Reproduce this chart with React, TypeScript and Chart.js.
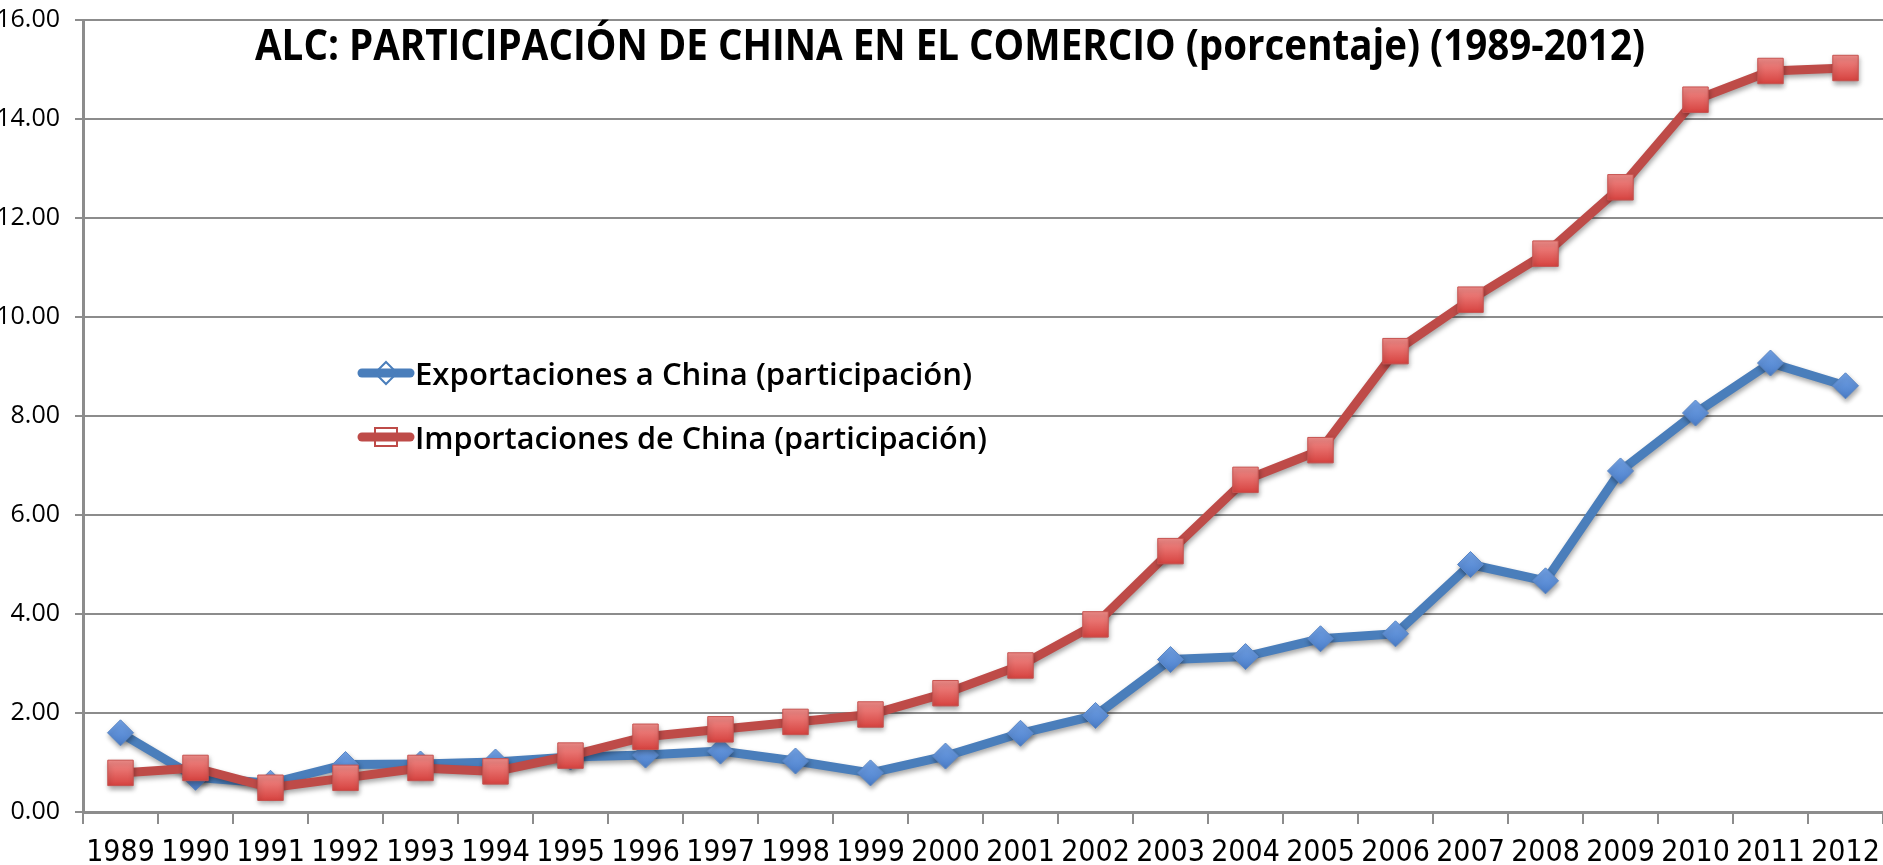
import React, { useEffect, useRef } from "react";
import { Chart, registerables } from "chart.js";

Chart.register(...registerables);

const years = [
  "1989", "1990", "1991", "1992", "1993", "1994", "1995", "1996",
  "1997", "1998", "1999", "2000", "2001", "2002", "2003", "2004",
  "2005", "2006", "2007", "2008", "2009", "2010", "2011", "2012",
];

const exportsShare = [
  1.6, 0.7, 0.58, 0.96, 0.97, 1.01, 1.11, 1.15, 1.23, 1.03, 0.79, 1.13,
  1.59, 1.95, 3.08, 3.14, 3.5, 3.6, 5.0, 4.67, 6.89, 8.06, 9.07, 8.61,
];

const importsShare = [
  0.79, 0.89, 0.49, 0.69, 0.89, 0.82, 1.14, 1.52, 1.67, 1.82, 1.97, 2.4,
  2.96, 3.79, 5.27, 6.71, 7.31, 9.31, 10.35, 11.28, 12.62, 14.39, 14.97, 15.03,
];

const titleText = "ALC: PARTICIPACIÓN DE CHINA EN EL COMERCIO (porcentaje) (1989-2012)";
const seriesLabels = [
  "Exportaciones a China (participación)",
  "Importaciones de China (participación)",
];

const BLUE_LINE = "#4a7ebb";
const BLUE_FILL = "#5b8fd7";
const RED_LINE = "#be4b48";
const RED_FILL = "#e25a57";
const GRID = "#8c8c8c";

function markerGradient(top: string, bottom: string, fallback: string, half: number) {
  return (c: any) => {
    const chart = c.chart;
    if (!chart || !chart.scales || !chart.scales.y || !c.parsed || c.parsed.y == null) return fallback;
    const y = chart.scales.y.getPixelForValue(c.parsed.y);
    if (!isFinite(y)) return fallback;
    const g = chart.ctx.createLinearGradient(0, y - half, 0, y + half);
    g.addColorStop(0, top);
    g.addColorStop(1, bottom);
    return g;
  };
}

function drawFitted(
  ctx: CanvasRenderingContext2D,
  text: string,
  x: number,
  y: number,
  font: string,
  targetWidth: number
) {
  ctx.save();
  ctx.font = font;
  ctx.fillStyle = "#000";
  ctx.textBaseline = "alphabetic";
  ctx.textAlign = "left";
  const w = ctx.measureText(text).width;
  ctx.translate(x, y);
  ctx.scale(targetWidth / w, 1);
  ctx.fillText(text, 0, 0);
  ctx.restore();
}

const shadowPlugin = {
  id: "markerShadow",
  beforeDatasetDraw(chart: any) {
    const ctx = chart.ctx;
    ctx.save();
    ctx.shadowColor = "rgba(0,0,0,0.35)";
    ctx.shadowBlur = 5;
    ctx.shadowOffsetX = 1;
    ctx.shadowOffsetY = 3;
  },
  afterDatasetDraw(chart: any) {
    chart.ctx.restore();
  },
};

const overlayPlugin = {
  id: "overlay",
  afterDraw(chart: any) {
    const ctx: CanvasRenderingContext2D = chart.ctx;
    // Title
    drawFitted(ctx, titleText, 255, 60, "bold 43px 'Open Sans', Lato, sans-serif", 1390);

    // Legend
    const rows = [
      { y: 373, base: 385, color: BLUE_LINE, shape: "diamond", width: 557 },
      { y: 437, base: 449, color: RED_LINE, shape: "square", width: 572 },
    ];
    rows.forEach((r, i) => {
      ctx.save();
      ctx.strokeStyle = r.color;
      ctx.lineWidth = 9;
      ctx.lineCap = "round";
      ctx.beginPath();
      ctx.moveTo(362, r.y);
      ctx.lineTo(410, r.y);
      ctx.stroke();
      ctx.lineWidth = 2;
      ctx.lineCap = "butt";
      ctx.beginPath();
      if (r.shape === "diamond") {
        ctx.moveTo(386, r.y - 11);
        ctx.lineTo(397, r.y);
        ctx.lineTo(386, r.y + 11);
        ctx.lineTo(375, r.y);
        ctx.closePath();
      } else {
        ctx.rect(375, r.y - 9, 22, 18);
      }
      ctx.stroke();
      ctx.restore();
      drawFitted(ctx, seriesLabels[i], 415, r.base, "600 31px 'Open Sans', Lato, sans-serif", r.width);
    });
  },
};

export default function App() {
  const canvasRef = useRef<HTMLCanvasElement | null>(null);

  useEffect(() => {
    if (!canvasRef.current) return;
    const chart = new Chart(canvasRef.current, {
      type: "line",
      data: {
        labels: years,
        datasets: [
          {
            label: seriesLabels[0],
            data: exportsShare,
            borderColor: BLUE_LINE,
            backgroundColor: BLUE_FILL,
            borderWidth: 9,
            pointStyle: "rectRot",
            pointRadius: 13,
            pointBorderColor: "#5a86c4",
            pointBackgroundColor: markerGradient("#74a4e8", "#4a7dc8", BLUE_FILL, 13),
            pointBorderWidth: 1,
            tension: 0,
            order: 1,
            clip: false,
          },
          {
            label: seriesLabels[1],
            data: importsShare,
            borderColor: RED_LINE,
            backgroundColor: RED_FILL,
            borderWidth: 9,
            pointStyle: "rect",
            pointRadius: 18,
            pointBorderColor: "#c65350",
            pointBackgroundColor: markerGradient("#f28e8b", "#d6423f", RED_FILL, 13),
            pointBorderWidth: 1,
            tension: 0,
            order: 0,
            clip: false,
          },
        ],
      },
      options: {
        animation: false,
        responsive: true,
        maintainAspectRatio: false,
        devicePixelRatio: 1,
        layout: { autoPadding: false, padding: { top: 20, left: 0, right: 0, bottom: 0 } },
        plugins: {
          legend: { display: false },
          title: { display: false },
          tooltip: { enabled: false },
        },
        scales: {
          x: {
            type: "category",
            offset: true,
            grid: {
              offset: true,
              drawOnChartArea: false,
              drawTicks: true,
              tickLength: 12,
              color: GRID,
              lineWidth: 2,
            },
            border: { color: GRID, width: 3 },
            ticks: {
              color: "#000",
              padding: 11,
              maxRotation: 0,
              autoSkip: false,
              font: {
                family: "'Liberation Sans Narrow', 'DejaVu Sans Condensed', Roboto, sans-serif",
                size: 30,
              },
            },
            afterFit(scale: any) {
              scale.height = 53;
              scale.paddingLeft = 0;
              scale.paddingRight = 0;
            },
          },
          y: {
            min: 0,
            max: 16,
            grid: {
              color: GRID,
              lineWidth: 2,
              drawTicks: true,
              tickLength: 8,
            },
            border: { color: GRID, width: 3 },
            ticks: {
              stepSize: 2,
              color: "#000",
              padding: 15,
              font: { family: "'Open Sans', sans-serif", size: 25 },
              callback: (v: any) => Number(v).toFixed(2),
            },
            afterFit(scale: any) {
              scale.width = 83;
              scale.paddingTop = 0;
              scale.paddingBottom = 0;
            },
          },
        },
      },
      plugins: [shadowPlugin, overlayPlugin],
    });
    return () => chart.destroy();
  }, []);

  return (
    <div style={{ position: "fixed", left: 0, top: 0, width: 1883, height: 865, background: "#fff" }}>
      <canvas ref={canvasRef} />
    </div>
  );
}
